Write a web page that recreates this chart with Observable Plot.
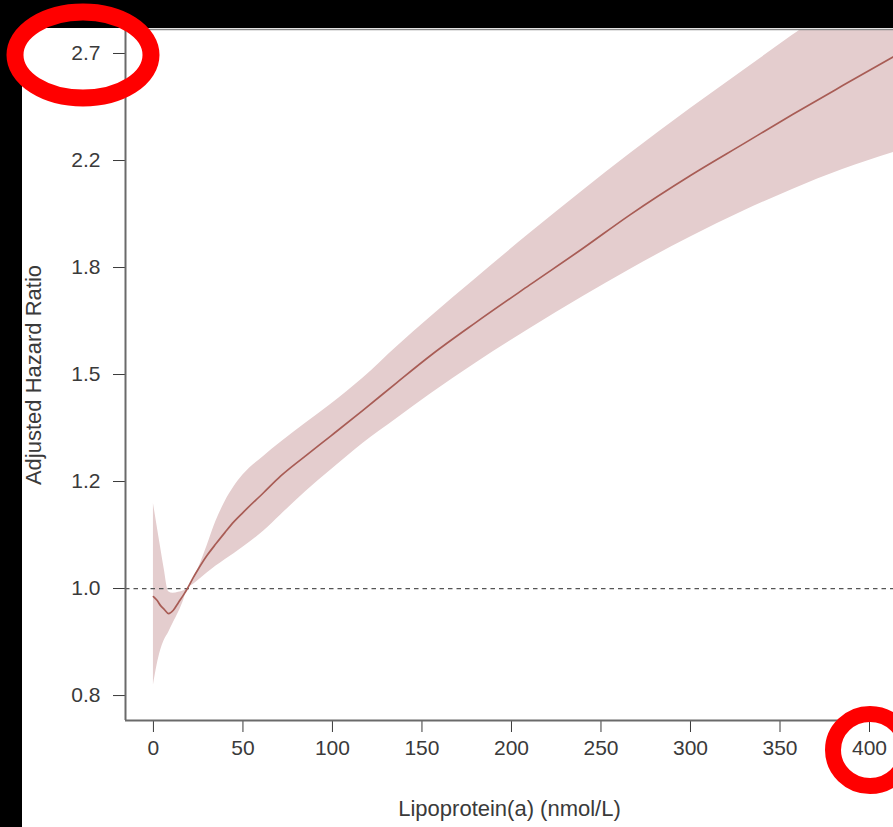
<!DOCTYPE html>
<html>
<head>
<meta charset="utf-8">
<script src="https://cdn.jsdelivr.net/npm/d3@7"></script>
<script src="https://cdn.jsdelivr.net/npm/@observablehq/plot@0.6"></script>
<style>
  html, body { margin: 0; padding: 0; background: #000; overflow: hidden; width: 893px; height: 827px; }
  #panel { position: absolute; left: 22px; top: 28px; width: 871px; height: 799px; background: #fff; }
  #marks { position: absolute; left: 0; top: 0; width: 893px; height: 827px; pointer-events: none; }
</style>
</head>
<body>
<div id="panel"></div>
<svg id="marks" width="893" height="827"></svg>
<script>
// Lipoprotein(a) concentration (nmol/L)
const lpa = [0, 2, 4, 6, 8.5, 11, 14, 17, 19, 22, 25, 30, 35, 40, 45, 50, 61.5, 71, 85, 99, 117, 136, 155, 180, 210, 240, 266, 300, 330, 357, 385, 413.4];
// log of adjusted hazard ratio (spline estimate) and its 95% CI
const logHR = [-0.015, -0.022, -0.032, -0.039, -0.047, -0.041, -0.026, -0.011, 0, 0.019, 0.036, 0.062, 0.084, 0.105, 0.125, 0.142, 0.179, 0.210, 0.248, 0.285, 0.333, 0.385, 0.436, 0.497, 0.567, 0.636, 0.698, 0.772, 0.832, 0.886, 0.940, 0.994];
const logLower = [-0.181, -0.144, -0.116, -0.097, -0.082, -0.065, -0.045, -0.021, 0, 0.007, 0.015, 0.029, 0.042, 0.054, 0.065, 0.077, 0.107, 0.137, 0.181, 0.221, 0.271, 0.318, 0.364, 0.421, 0.485, 0.546, 0.596, 0.657, 0.706, 0.746, 0.783, 0.815];
const logUpper = [0.159, 0.118, 0.077, 0.037, -0.006, -0.009, -0.007, -0.004, 0, 0.017, 0.037, 0.080, 0.126, 0.162, 0.190, 0.212, 0.247, 0.273, 0.309, 0.344, 0.393, 0.452, 0.508, 0.579, 0.663, 0.744, 0.812, 0.897, 0.969, 1.034, 1.098, 1.163];

const xTicks = [0, 50, 100, 150, 200, 250, 300, 350, 400];
const yTicks = [0.8187, 1, 1.2214, 1.4918, 1.8221, 2.2255, 2.7183];
const yTickLabels = ["0.8", "1.0", "1.2", "1.5", "1.8", "2.2", "2.7"];
const xDomain = [-15.6, 413.4];
const yDomain = [0.7814, 2.843];
const referenceHR = [1];
const xLabel = "Lipoprotein(a) (nmol/L)";
const yLabel = "Adjusted Hazard Ratio";

const rows = lpa.map((v, i) => ({
  lpa: v,
  hr: Math.exp(logHR[i]),
  lo: Math.exp(logLower[i]),
  hi: Math.exp(logUpper[i])
}));

const W = 871, H = 799, mL = 103, mB = 107, mT = 1, mR = 0;
const tickSize = 12, yPad = 13, xPad = 8;

const chart = Plot.plot({
  width: W, height: H,
  marginTop: mT, marginRight: mR, marginBottom: mB, marginLeft: mL,
  style: {
    fontFamily: "'Liberation Sans', Arial, Helvetica, sans-serif",
    fontSize: "21px",
    color: "#3a3a3a",
    background: "white"
  },
  x: { domain: xDomain, ticks: xTicks, tickSize: tickSize, tickPadding: xPad, label: null },
  y: { type: "log", domain: yDomain, ticks: yTicks, tickSize: tickSize, tickPadding: yPad,
       tickFormat: d => yTickLabels[yTicks.indexOf(d)], label: null },
  marks: [
    Plot.areaY(rows, { x: "lpa", y1: "lo", y2: "hi", fill: "#e4cdce", curve: "monotone-x", clip: true }),
    Plot.ruleY(referenceHR, { stroke: "#555", strokeWidth: 1.3, strokeDasharray: "4.5,4" }),
    Plot.line(rows, { x: "lpa", y: "hr", stroke: "#a85c55", strokeWidth: 1.7, curve: "monotone-x", clip: true }),
    Plot.ruleX([xDomain[0]], { stroke: "#6a6a6a", strokeWidth: 2 }),
    Plot.ruleY([yDomain[0]], { stroke: "#6a6a6a", strokeWidth: 2 }),
    Plot.ruleY([yDomain[1]], { stroke: "#8a8a8a", strokeWidth: 1.5 }),
    Plot.text([xLabel], { frameAnchor: "bottom", dy: 95, fontSize: 22, fill: "#3a3a3a" }),
    Plot.text([yLabel], { frameAnchor: "left", textAnchor: "middle", rotate: -90, dx: -92, fontSize: 22, fill: "#3a3a3a" })
  ]
});
document.getElementById("panel").appendChild(chart);

// red highlight rings around the "2.7" and "400" tick labels, placed through the scales
const xs = chart.scale("x"), ys = chart.scale("y");
const ox = 22, oy = 28;
const ring = d3.select("#marks");
ring.append("ellipse")
  .attr("cx", ox + mL - tickSize - yPad - 17)
  .attr("cy", oy + ys.apply(yTicks[6]) + 2)
  .attr("rx", 68).attr("ry", 43)
  .attr("fill", "none").attr("stroke", "#ff0000").attr("stroke-width", 17);
ring.append("ellipse")
  .attr("cx", ox + xs.apply(400) + 1)
  .attr("cy", oy + (H - mB) + tickSize + xPad + 10)
  .attr("rx", 37).attr("ry", 36)
  .attr("fill", "none").attr("stroke", "#ff0000").attr("stroke-width", 16);
</script>
</body>
</html>
